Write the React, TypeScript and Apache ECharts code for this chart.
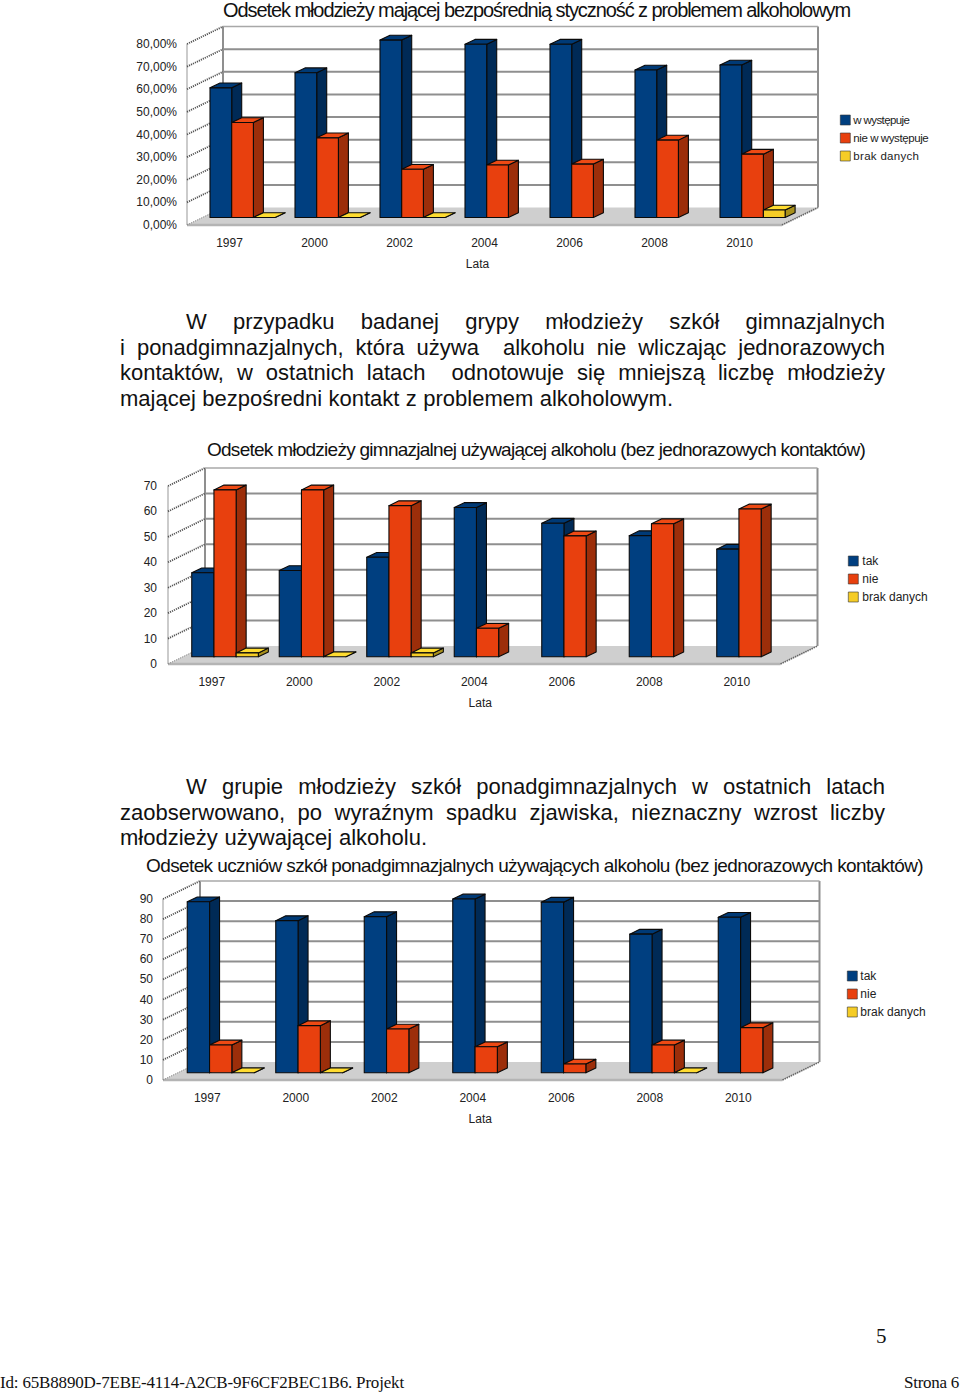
import React, { useEffect, useRef } from "react";
import * as echarts from "echarts";

const years = ["1997", "2000", "2002", "2004", "2006", "2008", "2010"];

const occursYes = [57.3, 64, 78.4, 76.6, 76.6, 65.2, 67.4];
const occursNo = [42, 35.2, 21.3, 23.2, 23.6, 34.2, 28];
const occursNoData = [0, 0, 0, null, null, null, 3.3];

const juniorYes = [33, 33.9, 39.1, 58.7, 52.5, 47.6, 42.3];
const juniorNo = [65.6, 65.6, 59.4, 11.2, 47.5, 52.3, 58.1];
const juniorNoData = [1.5, 0, 1.5, null, null, null, null];

const seniorYes = [85, 75.6, 77.6, 86.4, 84.8, 68.9, 77.3];
const seniorNo = [13.8, 23.4, 21.7, 12.9, 4.3, 13.8, 22.4];
const seniorNoData = [0, 0, null, null, null, 0, null];

const ticks80 = [0, 10, 20, 30, 40, 50, 60, 70, 80];
const ticks70 = [0, 10, 20, 30, 40, 50, 60, 70];
const ticks90 = [0, 10, 20, 30, 40, 50, 60, 70, 80, 90];

const legend1 = ["w występuje", "nie w występuje", "brak danych"];
const legend2 = ["tak", "nie", "brak danych"];

const title1 = "Odsetek młodzieży mającej bezpośrednią styczność z problemem alkoholowym";
const title2 = "Odsetek młodzieży gimnazjalnej używającej alkoholu (bez jednorazowych kontaktów)";
const title3 = "Odsetek uczniów szkół ponadgimnazjalnych używających alkoholu (bez jednorazowych kontaktów)";

const SANS = '"Liberation Sans", Arial, sans-serif';
const SERIF = '"Liberation Serif", serif';

// [text, left, right, vertical centre, size, family]
const pageLines: [string, number, number, number, number, string][] = [
  ["W przypadku badanej grypy młodzieży szkół gimnazjalnych", 186, 885, 321.5, 22, SANS],
  ["i ponadgimnazjalnych, która używa  alkoholu nie wliczając jednorazowych", 120, 885, 347.5, 22, SANS],
  ["kontaktów, w ostatnich latach  odnotowuje się mniejszą liczbę młodzieży", 120, 885, 372.5, 22, SANS],
  ["mającej bezpośredni kontakt z problemem alkoholowym.", 120, 673, 398.5, 22, SANS],
  ["W grupie młodzieży szkół ponadgimnazjalnych w ostatnich latach", 186, 885, 786.5, 22, SANS],
  ["zaobserwowano, po wyraźnym spadku zjawiska, nieznaczny wzrost liczby", 120, 885, 812.5, 22, SANS],
  ["młodzieży używającej alkoholu.", 120, 427, 837.5, 22, SANS],
  ["5", 876, 886, 1336, 21, SERIF],
  ["Id: 65B8890D-7EBE-4114-A2CB-9F6CF2BEC1B6. Projekt", 0, 404, 1382, 17, SERIF],
  ["Strona 6", 904, 959, 1382, 17, SERIF],
];

// [text, left, right]
const titleFits: [string, number, number][] = [
  [title1, 223, 850],
  [title2, 207, 865],
  [title3, 146, 923],
];

const legendFits: [string, number, number][] = [
  [legend1[0], 853, 909],
  [legend1[1], 853, 928],
  [legend1[2], 853, 919],
];

const palette = [
  { front: "#003f80", side: "#002a56", top: "#003a76" },
  { front: "#e8400e", side: "#9c2e0a", top: "#ee4a14" },
  { front: "#f5cc26", side: "#a8901c", top: "#ffdc30" },
];

type ChartSpec = {
  left: number; width: number; bottom: number; top: number; max: number;
  depthX: number; depthY: number; barW: number; shiftX: number; shiftY: number;
  ticks: number[]; names: string[]; values: (number | null)[][];
  percent: boolean; title: string; titleY: number; titleSize: number;
  legendX: number; legendY: number; nameShift: number; labelMargin: number;
  legendPad: number; legendSize: number; labelPad: number;
};

const charts: ChartSpec[] = [
  {
    left: 187, width: 595, bottom: 225, top: 44, max: 80, depthX: 36, depthY: 17.5,
    barW: 21.7, shiftX: 13.05, shiftY: -7.5, ticks: ticks80, names: legend1,
    values: [occursYes, occursNo, occursNoData], percent: true, title: title1,
    titleY: 0, titleSize: 20, legendX: 840, legendY: 114, nameShift: -7, labelMargin: 10,
    legendPad: -2, legendSize: 11.5, labelPad: 1,
  },
  {
    left: 168, width: 612.5, bottom: 664, top: 486, max: 70, depthX: 37, depthY: 18,
    barW: 22.2, shiftX: 13.3, shiftY: -7.3, ticks: ticks70, names: legend2,
    values: [juniorYes, juniorNo, juniorNoData], percent: false, title: title2,
    titleY: 440, titleSize: 19, legendX: 848, legendY: 555, nameShift: 6, labelMargin: 11,
    legendPad: -1, legendSize: 12, labelPad: 2,
  },
  {
    left: 163, width: 619.5, bottom: 1080, top: 899, max: 90, depthX: 37, depthY: 18,
    barW: 22.3, shiftX: 13.45, shiftY: -7.3, ticks: ticks90, names: legend2,
    values: [seniorYes, seniorNo, seniorNoData], percent: false, title: title3,
    titleY: 856, titleSize: 19, legendX: 847, legendY: 970, nameShift: 7.5, labelMargin: 10,
    legendPad: -2, legendSize: 12, labelPad: 2,
  },
];

function poly(points: number[][], fill: string, stroke = "#0a0a0a", lineWidth = 1.1) {
  return { type: "polygon", shape: { points }, style: { fill, stroke, lineWidth, lineJoin: "round" } };
}

function seg(x1: number, y1: number, x2: number, y2: number, stroke: string, lineWidth: number, lineDash?: number[]) {
  return { type: "line", shape: { x1, y1, x2, y2 }, style: { stroke, lineWidth, lineDash, fill: null } };
}

function buildOption() {
  const grid: any[] = [];
  const xAxis: any[] = [];
  const yAxis: any[] = [];
  const series: any[] = [];
  const legend: any[] = [];
  const title: any[] = [];

  charts.forEach((c, gi) => {
    grid.push({ left: c.left, top: c.top, width: c.width, height: c.bottom - c.top });
    xAxis.push({
      type: "category", gridIndex: gi, data: years,
      axisLine: { show: false }, axisTick: { show: false },
      axisLabel: { fontFamily: SANS, fontSize: 12, color: "#222", margin: 12, interval: 0 },
      name: "Lata", nameLocation: "middle", nameGap: 33,
      nameTextStyle: {
        fontFamily: SANS, fontSize: 12, color: "#222",
        padding: c.nameShift >= 0 ? [0, 0, 0, c.nameShift * 2] : [0, -c.nameShift * 2, 0, 0],
      },
    });
    yAxis.push({
      type: "value", gridIndex: gi, min: 0, max: c.max, interval: 10,
      axisLine: { show: false }, axisTick: { show: false }, splitLine: { show: false },
      axisLabel: {
        fontFamily: SANS, fontSize: 12, color: "#222", margin: c.labelMargin, padding: [c.labelPad, 0, 0, 0],
        formatter: c.percent ? (v: number) => v.toFixed(2).replace(".", ",") + "%" : (v: number) => String(v),
      },
    });
    title.push({
      text: c.title, left: titleFits[gi][1], top: c.titleY, padding: 0,
      textStyle: { fontFamily: SANS, fontSize: c.titleSize, fontWeight: "normal", color: "#111" },
    });
    legend.push({
      data: c.names, orient: "vertical", left: c.legendX, top: c.legendY, padding: 0,
      itemWidth: 10, itemHeight: 10, itemGap: 6, icon: "rect", selectedMode: false,
      itemStyle: { borderColor: "#333", borderWidth: 0.6 },
      textStyle: { fontFamily: SANS, fontSize: c.legendSize, color: "#222", padding: [1, 0, 0, c.legendPad] },
    });

    // floor and wall frame
    series.push({
      type: "custom", xAxisIndex: gi, yAxisIndex: gi, silent: true, z: 1, encode: { x: 0, y: 1 },
      data: [[0, 0]],
      renderItem: (params: any) => {
        const r = params.coordSys;
        const x0 = r.x, x1 = r.x + r.width, y0 = r.y + r.height, yT = r.y;
        const dx = c.depthX, dy = c.depthY;
        return {
          type: "group",
          children: [
            { type: "polygon", shape: { points: [[x0, y0], [x1, y0], [x1 + dx, y0 - dy], [x0 + dx, y0 - dy]] }, style: { fill: "#cfcfcf" } },
            seg(x0, y0, x1, y0, "#b4b4b4", 2.4),
            seg(x1, y0, x1 + dx, y0 - dy, "#666", 1.6, [1.5, 0.8]),
            seg(x0, y0, x0, yT, "#a8a8a8", 1.2),
            seg(x0 + dx, y0 - dy, x0 + dx, yT - dy, "#8f8f8f", 2),
            seg(x1 + dx, y0 - dy, x1 + dx, yT - dy, "#8f8f8f", 2),
            seg(x0 + dx, yT - dy, x1 + dx, yT - dy, "#a8a8a8", 1.6),
          ],
        };
      },
    });

    // gridlines on back and side walls
    series.push({
      type: "custom", xAxisIndex: gi, yAxisIndex: gi, silent: true, z: 2, encode: { x: 0, y: 1 },
      data: c.ticks.map((t) => [0, t]),
      renderItem: (params: any, api: any) => {
        const r = params.coordSys;
        const p = api.coord([0, api.value(1)]);
        const x0 = r.x, x1 = r.x + r.width, y = p[1];
        const dx = c.depthX, dy = c.depthY;
        const isTop = api.value(1) === c.max;
        const isZero = api.value(1) === 0;
        const kids: any[] = [seg(x0, y, x0 + dx, y - dy, isZero ? "#888" : "#555", isZero ? 1 : 1.8, [1.2, 1])];
        if (!isTop && !isZero) kids.push(seg(x0 + dx, y - dy, x1 + dx, y - dy, "#8f8f8f", 2));
        return { type: "group", children: kids };
      },
    });

    // the three bar series
    c.values.forEach((vals, si) => {
      const col = palette[si];
      series.push({
        type: "custom", name: c.names[si], xAxisIndex: gi, yAxisIndex: gi, silent: true, z: 3 + si,
        encode: { x: 0, y: 1 }, itemStyle: { color: col.front },
        data: vals.map((v, i) => (v === null ? null : [i, v])).filter(Boolean),
        renderItem: (_p: any, api: any) => {
          const top = api.coord([api.value(0), api.value(1)]);
          const base = api.coord([api.value(0), 0]);
          const w = c.barW;
          const xL = top[0] + c.shiftX + (si - 1.5) * w;
          const xR = xL + w;
          const yT = top[1] + c.shiftY;
          const yB = base[1] + c.shiftY;
          const sx = 10, sy = 4.8;
          const kids: any[] = [
            poly([[xR, yT], [xR + sx, yT - sy], [xR + sx, yB - sy], [xR, yB]], col.side),
            poly([[xL, yT], [xL + sx, yT - sy], [xR + sx, yT - sy], [xR, yT]], col.top),
          ];
          if (yB - yT > 0.1) kids.push(poly([[xL, yT], [xR, yT], [xR, yB], [xL, yB]], col.front));
          return { type: "group", children: kids };
        },
      });
    });
  });

  const graphic = pageLines.map(([text, x, , y, size, family]) => ({
    type: "text", x, y, silent: true,
    style: { text, fontSize: size, fontFamily: family, fill: "#111", verticalAlign: "middle", align: "left" },
  }));

  return { animation: false, backgroundColor: "#fff", grid, xAxis, yAxis, series, legend, title, graphic };
}

function fitTexts(root: HTMLElement) {
  const nodes = Array.from(root.querySelectorAll("text")) as any[];
  const fit = (text: string, x0: number, x1: number, mode: "word" | "letter") => {
    const n = nodes.find((t) => t.textContent === text && Math.abs(t.getBoundingClientRect().left - x0) < 4);
    if (!n) return;
    n.removeAttribute("word-spacing");
    n.removeAttribute("letter-spacing");
    const len = n.getComputedTextLength();
    const count = mode === "word" ? (text.match(/ /g) || []).length : text.length;
    if (!count) return;
    n.setAttribute(mode === "word" ? "word-spacing" : "letter-spacing", String((x1 - x0 - len) / count));
  };
  pageLines.forEach(([t, a, b, , , fam]) => fit(t, a, b, fam === SERIF ? "letter" : "word"));
  titleFits.forEach(([t, a, b]) => fit(t, a, b, "letter"));
  legendFits.forEach(([t, a, b]) => fit(t, a, b, "letter"));
}

export default function App() {
  const ref = useRef<HTMLDivElement>(null);
  useEffect(() => {
    const el = ref.current!;
    const chart = echarts.init(el, null, { renderer: "svg" });
    chart.setOption(buildOption() as any);
    fitTexts(el);
    const raf = requestAnimationFrame(() => fitTexts(el));
    return () => {
      cancelAnimationFrame(raf);
      chart.dispose();
    };
  }, []);
  return <div ref={ref} style={{ position: "absolute", left: 0, top: 0, width: 960, height: 1392 }} />;
}
